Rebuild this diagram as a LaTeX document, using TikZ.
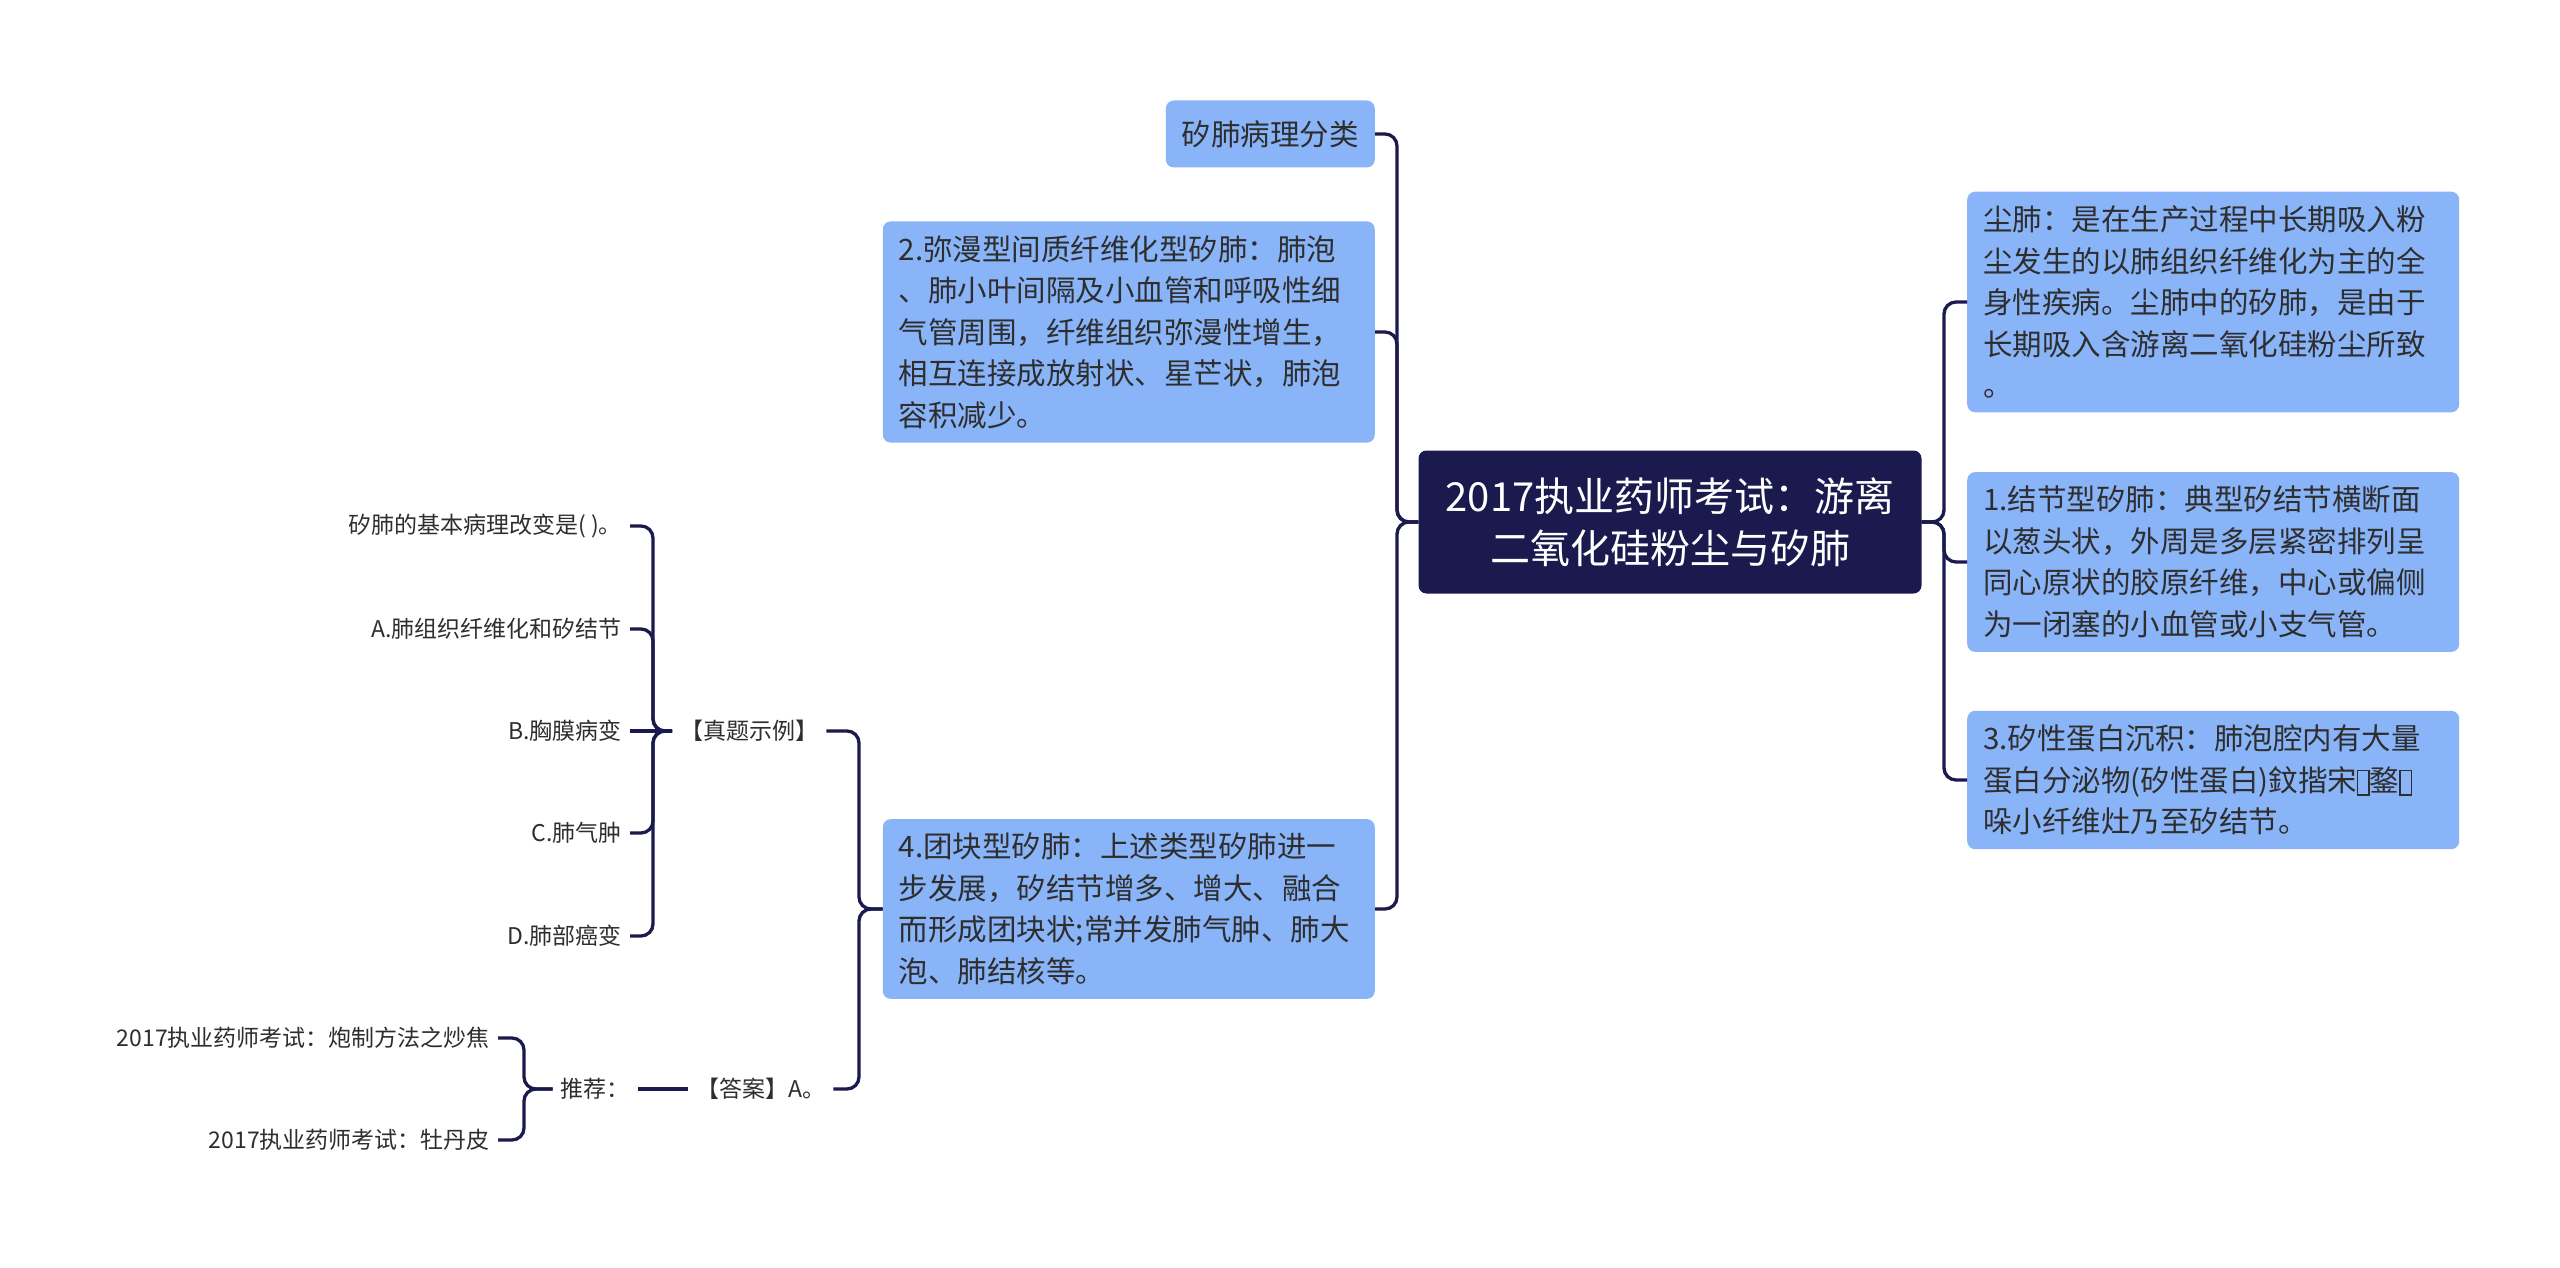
\documentclass[tikz,border=0pt]{standalone}
\usepackage{fontspec}
\setmainfont{Noto Sans CJK SC}
\definecolor{navy}{HTML}{1B1A4E}
\definecolor{boxblue}{HTML}{8AB4F8}
\definecolor{inktext}{HTML}{2E2E2E}
\newcommand{\tofubox}{{\fboxsep=0pt\fboxrule=1.3pt\fbox{\rule[-3pt]{0pt}{23pt}\hspace{10pt}}}}
\tikzset{
  topic/.style={rectangle, rounded corners=8pt, fill=navy, text=white, align=center, minimum width=503pt, minimum height=143pt, font=\fontsize{40}{52}\selectfont},
  pill/.style={rectangle, rounded corners=8pt, fill=boxblue, text=inktext, inner xsep=16pt, inner ysep=14pt, font=\fontsize{29.5}{41.5}\selectfont},
  sub/.style={pill, align=left, text width=460pt},
  leaf/.style={text=inktext, inner xsep=8pt, inner ysep=4pt, font=\fontsize{23}{28}\selectfont},
  link/.style={draw=navy, line width=3.3pt, rounded corners=12pt},
}
\begin{document}
\begin{tikzpicture}[x=1pt, y=-1pt]
			\fill[white] (0,0) rectangle (2560,1268);
			\useasboundingbox (0,0) rectangle (2560,1268);
			\node[topic] (root) at (1670,522) {2017执业药师考试：游离\\二氧化硅粉尘与矽肺};
			\node[sub, anchor=west] (dust) at (1967,302) {尘肺：是在生产过程中长期吸入粉\\尘发生的以肺组织纤维化为主的全\\身性疾病。尘肺中的矽肺，是由于\\长期吸入含游离二氧化硅粉尘所致\\。};
			\node[sub, anchor=west] (nodule) at (1967,562) {1.结节型矽肺：典型矽结节横断面\\以葱头状，外周是多层紧密排列呈\\同心原状的胶原纤维，中心或偏侧\\为一闭塞的小血管或小支气管。};
			\node[sub, anchor=west] (protein) at (1967,780) {3.矽性蛋白沉积：肺泡腔内有大量\\蛋白分泌物(矽性蛋白)鈫揩宋\tofubox 鍪\tofubox\\哚小纤维灶乃至矽结节。};
			\node[pill, anchor=east, minimum height=67pt] (kinds) at (1375,134) {矽肺病理分类};
			\node[sub, anchor=east] (diffuse) at (1375,332) {2.弥漫型间质纤维化型矽肺：肺泡\\、肺小叶间隔及小血管和呼吸性细\\气管周围，纤维组织弥漫性增生，\\相互连接成放射状、星芒状，肺泡\\容积减少。};
			\node[sub, anchor=east] (mass) at (1375,909) {4.团块型矽肺：上述类型矽肺进一\\步发展，矽结节增多、增大、融合\\而形成团块状;常并发肺气肿、肺大\\泡、肺结核等。};
			\coordinate (lt) at (1397,522);
			\coordinate (rt) at (1944,522);
			\foreach \n in {kinds,diffuse,mass} \draw[link] (root.west) -- (lt) |- (\n.east);
			\foreach \n in {dust,nodule,protein} \draw[link] (root.east) -- (rt) |- (\n.west);
			\node[leaf, anchor=west] (exam) at (672,731) {【真题示例】};
			\node[leaf, anchor=west] (answer) at (688,1089) {【答案】A。};
			\coordinate (mt) at (859,909);
			\draw[link] (mass.west) -- (mt) |- (exam.east);
			\draw[link] (mass.west) -- (mt) |- (answer.east);
			\node[leaf, anchor=east] (q0) at (630,526) {矽肺的基本病理改变是( )。};
			\node[leaf, anchor=east] (qa) at (630,629) {A.肺组织纤维化和矽结节};
			\node[leaf, anchor=east] (qb) at (630,731) {B.胸膜病变};
			\node[leaf, anchor=east] (qc) at (630,833) {C.肺气肿};
			\node[leaf, anchor=east] (qd) at (630,936) {D.肺部癌变};
			\coordinate (qt) at (653,731);
			\foreach \n in {q0,qa,qc,qd} \draw[link] (exam.west) -- (qt) |- (\n.east);
			\draw[link] (exam.west) -- (qb.east);
			\node[leaf, anchor=east] (rec) at (638,1089) {推荐：};
			\draw[link] (answer.west) -- (rec.east);
			\node[leaf, anchor=east] (p1) at (498,1038) {2017执业药师考试：炮制方法之炒焦};
			\node[leaf, anchor=east] (p2) at (498,1140) {2017执业药师考试：牡丹皮};
			\coordinate (pt) at (524,1089);
			\draw[link] (rec.west) -- (pt) |- (p1.east);
			\draw[link] (rec.west) -- (pt) |- (p2.east);
		\end{tikzpicture}
\end{document}
